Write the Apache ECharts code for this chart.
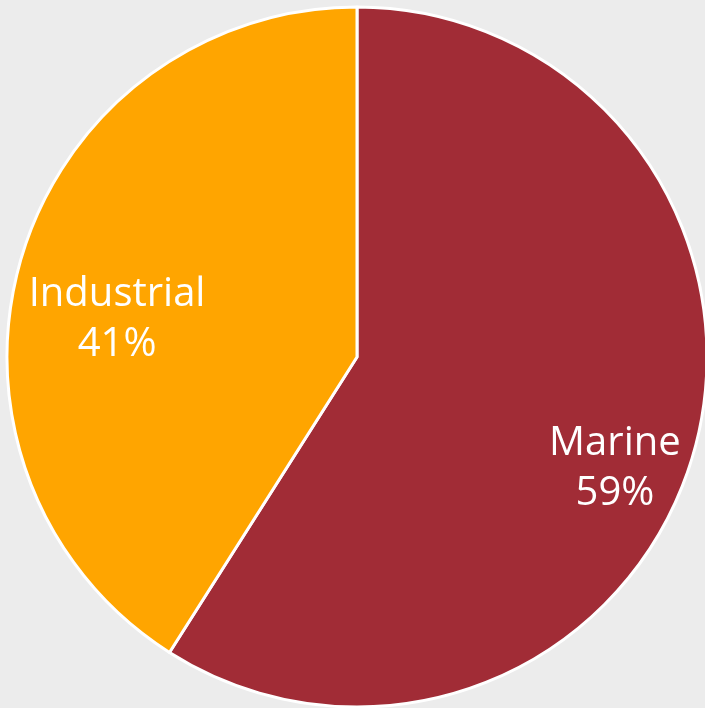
<!DOCTYPE html>
<html><head><meta charset="utf-8">
<script src="https://cdn.jsdelivr.net/npm/echarts@6/dist/echarts.min.js"></script>
<style>html,body{margin:0;padding:0;background:#ececec;}#c{width:705px;height:708px;}</style>
</head><body><div id="c"></div>
<script>
const categories = ['Marine', 'Industrial'];
const values = [59, 41];
const colors = ['#a12c36', '#ffa500'];
const offsets = [[87, 62], [-69, 12]];

const chart = echarts.init(document.getElementById('c'));
chart.setOption({
  backgroundColor: '#ececec',
  animation: false,
  series: [{
    type: 'pie',
    center: [357, 357],
    radius: 350,
    startAngle: 90,
    clockwise: true,
    itemStyle: { borderColor: '#ffffff', borderWidth: 3 },
    label: {
      show: true,
      position: 'inside',
      color: '#ffffff',
      fontFamily: 'Open Sans',
      fontSize: 40,
      lineHeight: 50,
      formatter: p => p.name + '\n' + p.value + '%'
    },
    labelLine: { show: false },
    data: categories.map((c, i) => ({
      name: c, value: values[i],
      itemStyle: { color: colors[i] },
      label: { offset: offsets[i] }
    }))
  }]
});
</script></body></html>
